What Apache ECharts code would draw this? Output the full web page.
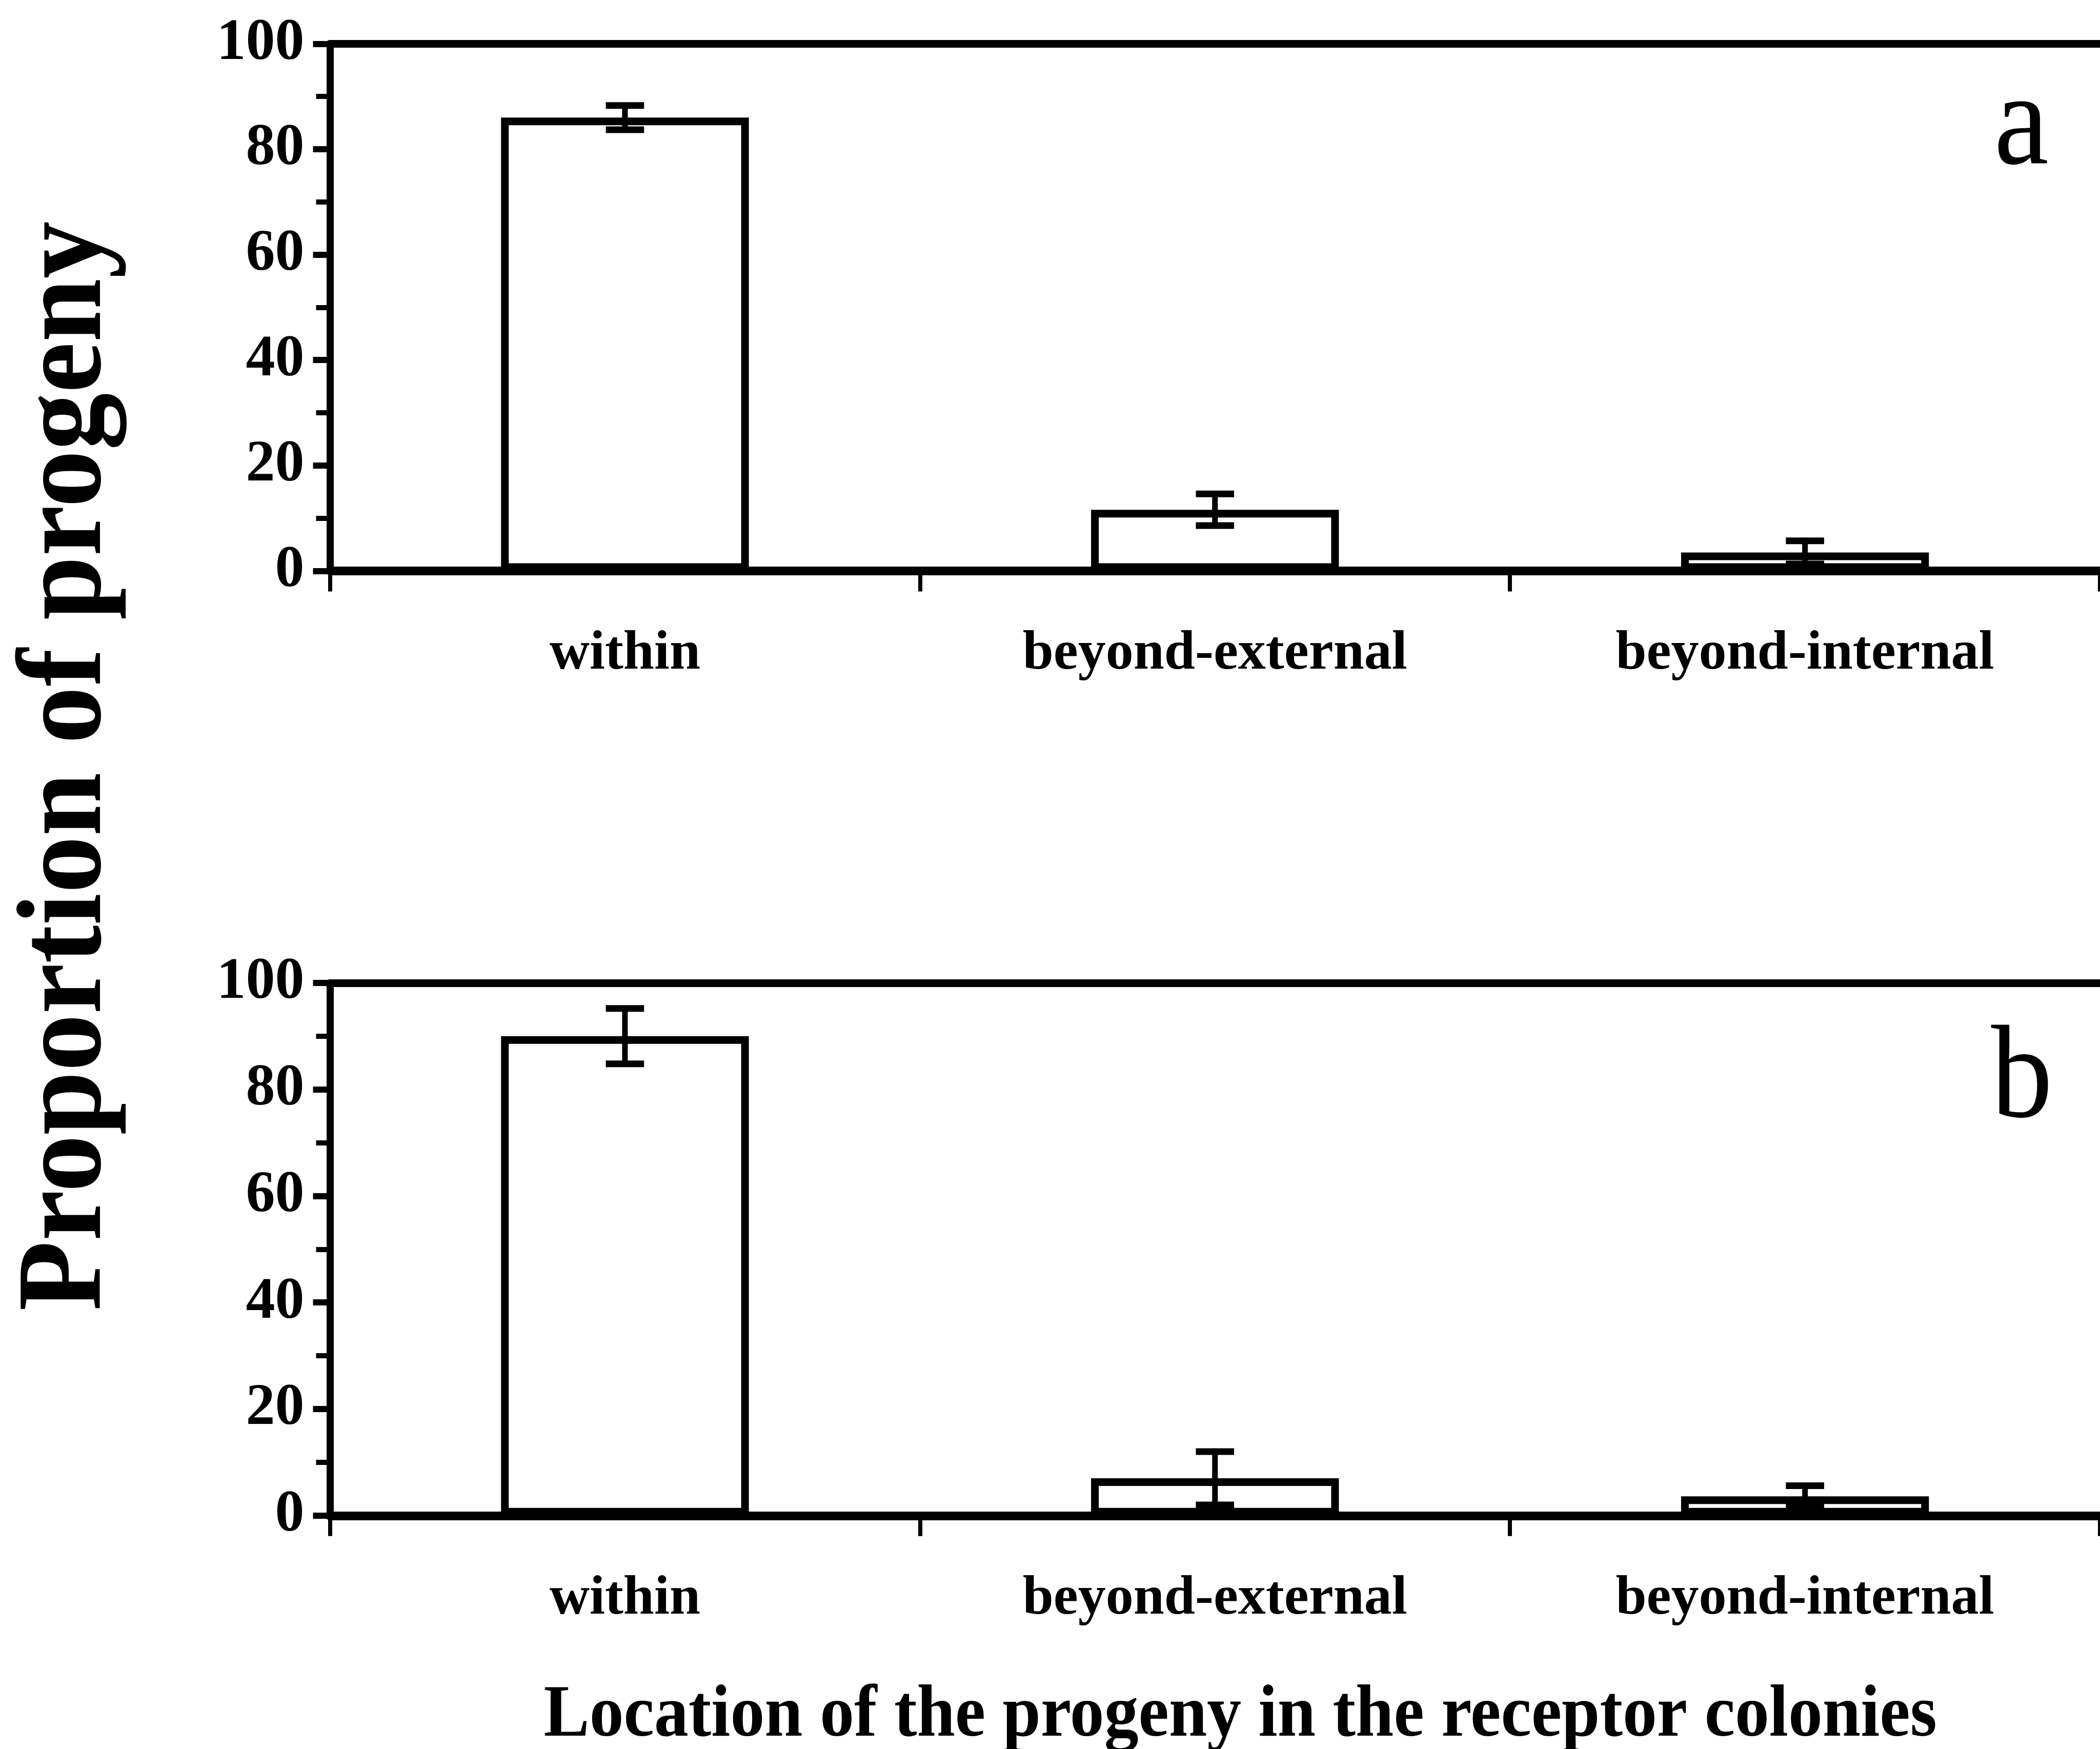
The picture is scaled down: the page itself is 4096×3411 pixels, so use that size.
<!DOCTYPE html>
<html>
<head>
<meta charset="utf-8">
<style>
  html, body { margin: 0; padding: 0; background: #fff; }
  #chart { width: 4096px; height: 3411px; }
</style>
<script src="https://cdn.jsdelivr.net/npm/echarts@6/dist/echarts.min.js"></script>
</head>
<body>
<div id="chart"></div>
<script>
// Proportion of progeny (%) by location in the receptor colonies, mean ± error
const categories = ['within', 'beyond-external', 'beyond-internal'];
const panelAValues = [86, 11.6, 3.5];
const panelAErrors = [2.3, 3, 2.2];
const panelBValues = [90, 7, 3.6];
const panelBErrors = [5.2, 5, 2];
const yTicks = [0, 20, 40, 60, 80, 100];

const S = 0.981;               // overall drawing scale
const FONT = 'Liberation Serif';
const INK = '#000';

const gridLeft = 656 * S;
const gridWidth = 3560 * S;
const grids = [
  { left: gridLeft, top: 87 * S, width: gridWidth, height: 1048 * S },
  { left: gridLeft, top: 1954 * S, height: 1059 * S, width: gridWidth }
];

function xAxes(gridIndex) {
  return [
    {
      type: 'category', gridIndex, position: 'bottom', data: categories,
      axisLine: { show: true, lineStyle: { color: INK, width: 17 } },
      axisTick: { show: true, length: 40, lineStyle: { color: INK, width: 8 } },
      axisLabel: {
        color: INK, fontFamily: FONT, fontWeight: 'bold', fontSize: 108, margin: 109
      },
      splitLine: { show: false }
    },
    {
      type: 'category', gridIndex, position: 'top', data: categories,
      axisLine: { show: true, lineStyle: { color: INK, width: 15 } },
      axisTick: { show: false }, axisLabel: { show: false }, splitLine: { show: false }
    }
  ];
}

function yAxis(gridIndex) {
  return {
    type: 'value', gridIndex, min: 0, max: 100, interval: 20,
    axisLine: { show: true, lineStyle: { color: INK, width: 14 } },
    axisTick: { show: true, length: 33, lineStyle: { color: INK, width: 12 } },
    minorTick: { show: true, splitNumber: 2, length: 27, lineStyle: { color: INK, width: 10 } },
    axisLabel: {
      color: INK, fontFamily: FONT, fontWeight: 'bold', fontSize: 114, margin: 50,
      formatter: v => (yTicks.indexOf(v) >= 0 ? String(v) : '')
    },
    splitLine: { show: false }
  };
}

function barSeries(values, xi, yi) {
  return {
    type: 'bar', xAxisIndex: xi, yAxisIndex: yi, data: values, barWidth: '42%',
    itemStyle: { color: '#fff', borderColor: INK, borderWidth: 15 },
    silent: true, z: 2
  };
}

function errorSeries(values, errors, xi, yi) {
  const data = values.map((v, i) => [i, v, errors[i]]);
  return {
    type: 'custom', xAxisIndex: xi, yAxisIndex: yi, data, z: 5, silent: true,
    encode: { x: 0, y: 1 },
    renderItem(params, api) {
      const i = api.value(0), m = api.value(1), e = api.value(2);
      const hi = api.coord([i, m + e]);
      const lo = api.coord([i, m - e]);
      const half = 38 * S;
      const capStyle = { stroke: INK, lineWidth: 13 };
      return {
        type: 'group',
        children: [
          { type: 'line', shape: { x1: hi[0], y1: hi[1], x2: lo[0], y2: lo[1] },
            style: { stroke: INK, lineWidth: 11 } },
          { type: 'line', shape: { x1: hi[0] - half, y1: hi[1], x2: hi[0] + half, y2: hi[1] },
            style: capStyle },
          { type: 'line', shape: { x1: lo[0] - half, y1: lo[1], x2: lo[0] + half, y2: lo[1] },
            style: capStyle }
        ]
      };
    }
  };
}

// Labels placed by their vertical middle, a fixed fraction of an em above the baseline
function textAt(text, x, baseline, size, opts) {
  const o = opts || {};
  return {
    type: 'text', x, y: baseline - 0.29 * size,
    scaleX: o.scaleX || 1, rotation: o.rotation || 0,
    style: {
      text, fill: INK, align: 'center', verticalAlign: 'middle',
      font: (o.weight || 'normal') + ' ' + size + 'px "' + FONT + '"'
    },
    silent: true
  };
}

const chart = echarts.init(document.getElementById('chart'), null, { renderer: 'canvas' });
chart.setOption({
  animation: false,
  backgroundColor: '#fff',
  grid: grids,
  xAxis: [...xAxes(0), ...xAxes(1)],
  yAxis: [yAxis(0), yAxis(1)],
  series: [
    barSeries(panelAValues, 0, 0),
    errorSeries(panelAValues, panelAErrors, 0, 0),
    barSeries(panelBValues, 2, 1),
    errorSeries(panelBValues, panelBErrors, 2, 1)
  ],
  graphic: [
    textAt('a', 4019 * S, 332 * S, 258, { scaleX: 0.93 }),
    textAt('b', 4020 * S, 2227 * S, 258, { scaleX: 0.93 }),
    textAt('Location of the progeny in the receptor colonies', 2466 * S, 3443 * S + 12, 143,
      { weight: 'bold', scaleX: 0.935 }),
    {
      type: 'text', x: 205 * S - 0.3375 * 235 + 13, y: 1523 * S,
      rotation: Math.PI / 2, scaleX: 0.95,
      style: {
        text: 'Proportion of progeny', fill: INK, align: 'center', verticalAlign: 'middle',
        font: 'bold 235px "' + FONT + '"'
      },
      silent: true
    }
  ]
});
</script>
</body>
</html>
